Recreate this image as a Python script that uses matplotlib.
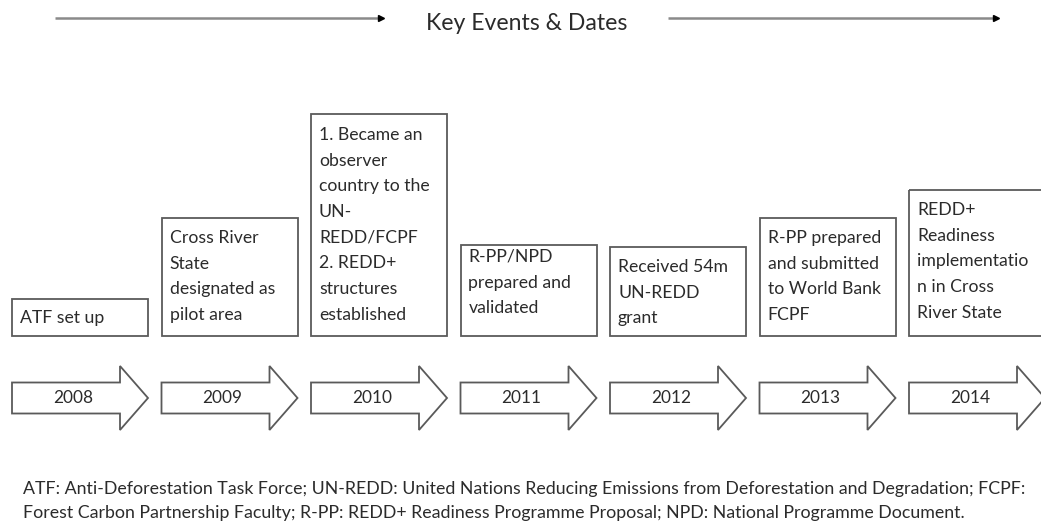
import matplotlib
matplotlib.use('Agg')
import matplotlib.pyplot as plt
from matplotlib.patches import Rectangle, Polygon

plt.rcParams['font.family'] = ['Lato', 'DejaVu Sans']

# Chart content
title = 'Key Events & Dates'
years = ['2008', '2009', '2010', '2011', '2012', '2013', '2014']
events = [
    'ATF set up',
    'Cross River\nState\ndesignated as\npilot area',
    '1. Became an\nobserver\ncountry to the\nUN-\nREDD/FCPF\n2. REDD+\nstructures\nestablished',
    'R-PP/NPD\nprepared and\nvalidated',
    'Received 54m\nUN-REDD\ngrant',
    'R-PP prepared\nand submitted\nto World Bank\nFCPF',
    'REDD+\nReadiness\nimplementatio\nn in Cross\nRiver State',
]
footnote = [
    'ATF: Anti-Deforestation Task Force; UN-REDD: United Nations Reducing Emissions from Deforestation and Degradation; FCPF:',
    'Forest Carbon Partnership Faculty; R-PP: REDD+ Readiness Programme Proposal; NPD: National Programme Document.',
]

# Layout (pixels, origin top-left)
W, H = 1041, 531
x0, step, bw = 12, 149.5, 136
box_top = [299, 218, 114, 245, 247, 218, 190]
box_bottom = 336
text_off = [19, 20, 21, 12, 20, 20, 20]
line_h = 25.7
arrow_cy, body_half, head_half, head_len = 398, 15.5, 32, 28

edge = '#5a5a5a'
txt = '#2b2b2b'

fig = plt.figure(figsize=(W / 100, H / 100), dpi=100)
ax = fig.add_axes([0, 0, 1, 1])
ax.set_xlim(0, W)
ax.set_ylim(H, 0)
ax.axis('off')

fig.canvas.draw()
rend = fig.canvas.get_renderer()


def fit(s, target, base=12):
    # font size that makes string s about target pixels wide
    t = ax.text(0, 0, s, fontsize=base)
    w = t.get_window_extent(renderer=rend).width
    t.remove()
    return base * target / w


fs_title = fit(title, 200)
fs_box = fit('Received 54m', 110)
fs_year = fit('2008', 40)
fs_note = fit(footnote[0], 992)

# header with arrows on both sides
for xa, xb in [(55, 383), (668, 998)]:
    ax.plot([xa, xb - 4], [18, 18], color='#8a8a8a', lw=1.8, solid_capstyle='butt')
    ax.plot([xb - 2], [18], marker='>', color='black', markersize=4)
ax.text(527, 23, title, fontsize=fs_title, color=txt, ha='center', va='center')

# event boxes and year arrows
for i, (yr, ev) in enumerate(zip(years, events)):
    left = x0 + step * i
    ax.add_patch(Rectangle((left, box_top[i]), bw, box_bottom - box_top[i],
                           fill=False, edgecolor=edge, lw=1.3))
    for k, line in enumerate(ev.split('\n')):
        ax.text(left + 8, box_top[i] + text_off[i] + k * line_h, line,
                fontsize=fs_box, color=txt, ha='left', va='center')

    hb = left + bw - head_len
    pts = [(left, arrow_cy - body_half), (hb, arrow_cy - body_half),
           (hb, arrow_cy - head_half), (left + bw, arrow_cy),
           (hb, arrow_cy + head_half), (hb, arrow_cy + body_half),
           (left, arrow_cy + body_half)]
    ax.add_patch(Polygon(pts, closed=True, facecolor='white', edgecolor=edge, lw=1.3))
    ax.text((left + left + bw - 14) / 2, arrow_cy, yr, fontsize=fs_year,
            color=txt, ha='center', va='center')

# abbreviations
for k, line in enumerate(footnote):
    ax.text(23, 489 + k * 24, line, fontsize=fs_note, color=txt, ha='left', va='center')

fig.savefig('out.png', dpi=100, facecolor='white')
